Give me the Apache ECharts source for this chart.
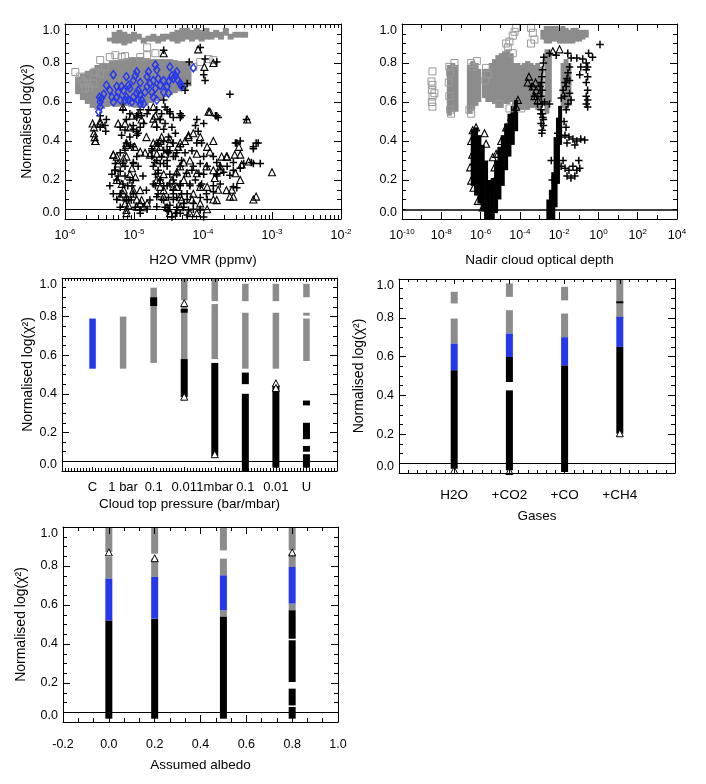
<!DOCTYPE html>
<html>
<head>
<meta charset="UTF-8">
<title></title>
<style>
* { margin: 0; padding: 0; }
html, body { background: #fff; }
#chart { width: 706px; height: 784px; }
</style>
</head>
<body>
<div id="chart"></div>
<script src="https://cdn.jsdelivr.net/npm/echarts@6/dist/echarts.min.js"></script>
<script>
// panel 1 : H2O VMR, x stored as log10(ppmv)
// strips are [x, yLow, yHigh] for the dense gray clouds
var vmrGrayStrips = [
  [-5.81,0.64,0.73],[-5.74,0.61,0.745],[-5.67,0.59,0.76],[-5.60,0.57,0.77],[-5.53,0.56,0.79],
  [-5.46,0.565,0.80],[-5.39,0.575,0.80],[-5.32,0.58,0.81],[-5.25,0.575,0.815],[-5.18,0.58,0.82],
  [-5.11,0.58,0.825],[-5.04,0.575,0.83],[-4.97,0.57,0.83],[-4.90,0.57,0.83],[-4.83,0.58,0.825],
  [-4.76,0.595,0.82],[-4.69,0.605,0.82],[-4.62,0.615,0.82],[-4.55,0.625,0.82],[-4.48,0.635,0.82],
  [-4.41,0.645,0.815],[-4.34,0.655,0.81],[-4.27,0.665,0.81],[-4.21,0.68,0.80],
  [-5.35,0.91,0.93],[-5.28,0.90,0.96],[-5.21,0.90,0.97],[-5.14,0.89,0.96],[-5.07,0.90,0.95],
  [-5.00,0.91,0.96],[-4.93,0.92,0.95],[-4.86,0.90,0.93],[-4.79,0.91,0.94],[-4.72,0.91,0.95],
  [-4.65,0.90,0.94],[-4.58,0.91,0.95],[-4.51,0.92,0.95],[-4.44,0.91,0.96],[-4.37,0.90,0.97],
  [-4.30,0.91,0.98],[-4.23,0.92,0.98],[-4.16,0.91,0.97],[-4.09,0.92,0.98],[-4.02,0.91,0.97],
  [-3.95,0.92,0.98],[-3.88,0.92,0.96],[-3.81,0.93,0.97],[-3.74,0.92,0.96],[-3.67,0.94,0.98],
  [-3.60,0.92,0.95],[-3.53,0.93,0.96],[-3.46,0.93,0.96],[-3.39,0.93,0.96]
];
var vmrGraySquares = [
  [-5.85,0.754],[-5.76,0.71],[-5.73,0.695],[-5.69,0.73],[-5.65,0.675],[-5.71,0.67],[-5.59,0.695],
  [-5.78,0.73],[-5.49,0.745],[-5.56,0.755],[-5.42,0.78],[-5.49,0.815],[-5.35,0.83],[-5.27,0.84],
  [-5.18,0.83],[-5.13,0.835],[-4.91,0.83],[-4.81,0.88],[-4.81,0.84],[-4.69,0.85],[-4.14,0.78],
  [-3.92,0.82],[-4.04,0.805],[-3.85,0.815]
];
var vmrPlus = [
  [-5.41,0.45],[-5.49,0.47],[-5.40,0.51],[-5.49,0.53],[-5.27,0.25],[-5.23,0.22],[-5.13,0.27],
  [-5.01,0.20],[-5.03,0.17],[-5.01,0.285],[-4.96,0.32],[-5.05,0.38],[-5.01,0.37],[-4.96,0.43],
  [-4.96,0.45],[-5.06,0.42],[-5.11,0.39],[-5.18,0.43],[-5.20,0.47],[-4.96,0.52],[-4.89,0.53],
  [-4.86,0.49],[-5.01,0.46],[-4.94,0.44],[-4.81,0.54],[-4.79,0.56],[-4.91,0.56],[-4.67,0.56],
  [-4.57,0.61],[-4.52,0.56],[-4.48,0.55],[-4.43,0.52],[-4.33,0.52],[-4.31,0.53],[-4.60,0.54],
  [-4.67,0.47],[-4.57,0.46],[-4.74,0.35],[-4.60,0.32],[-4.52,0.35],[-4.50,0.42],[-4.52,0.30],
  [-4.62,0.285],[-4.65,0.25],[-4.52,0.27],[-4.48,0.23],[-4.43,0.20],[-4.52,0.17],[-4.57,0.17],
  [-4.50,0.11],[-4.43,0.10],[-4.38,0.06],[-4.45,0.01],[-4.33,0.03],[-4.23,0.02],[-4.14,0.05],
  [-4.23,0.13],[-4.19,0.17],[-4.33,0.17],[-4.38,0.23],[-4.31,0.30],[-4.26,0.34],[-4.33,0.37],
  [-4.38,0.34],[-4.07,0.45],[-4.09,0.39],[-4.02,0.39],[-4.16,0.35],[-3.99,0.32],[-3.85,0.32],
  [-4.04,0.285],[-3.94,0.27],[-3.80,0.22],[-3.99,0.23],[-4.16,0.25],[-4.11,0.20],[-4.04,0.17],
  [-3.85,0.17],[-3.75,0.18],[-4.04,0.11],[-3.94,0.10],[-4.04,0.05],[-3.99,0.01],[-3.80,0.23],
  [-3.61,0.64],[-3.53,0.39],[-3.23,0.39],[-3.27,0.37],[-3.78,0.52],[-3.82,0.53],[-3.41,0.285],
  [-3.27,0.285],[-3.17,0.285],[-3.56,0.25],[-3.65,0.27],[-3.61,0.225],[-3.56,0.165],[-3.51,0.16],
  [-4.57,0.865],[-4.04,0.88],[-3.97,0.82],[-3.80,0.805],[-4.20,0.805],[-3.99,0.74],[-3.97,0.71],
  [-4.31,0.68],[-4.26,0.66],[-4.23,0.695],[-4.62,0.51],[-4.55,0.49],[-4.45,0.47],[-4.40,0.44],
  [-4.57,0.40],[-4.43,0.39],[-4.65,0.39],[-4.48,0.35],[-4.40,0.32],[-4.69,0.17],[-4.65,0.13],
  [-4.60,0.10],[-4.55,0.06],[-4.50,0.04],[-4.40,0.03],[-4.28,0.06],[-4.23,0.10],[-4.31,0.13],
  [-4.38,0.11],[-4.43,0.15],[-4.48,0.18],[-4.62,0.20],[-4.69,0.23],[-4.72,0.27],[-4.67,0.30],
  [-4.74,0.32],[-5.30,0.13],[-5.25,0.10],[-5.20,0.06],[-5.08,0.10],[-4.98,0.06],[-4.91,0.03],
  [-4.81,0.05],[-5.35,0.17],[-5.32,0.23],[-5.27,0.285],
  [-5.42,0.48],[-5.20,0.34],[-5.13,0.353],[-5.28,0.25],[-5.20,0.245],[-5.13,0.22],[-5.06,0.20],
  [-5.09,0.17],[-5.01,0.13],[-5.04,0.097],[-4.50,0.34],[-4.48,0.54],[-4.62,0.51],[-4.55,0.575],
  [-4.33,0.54],[-4.11,0.48],[-3.99,0.49],[-4.09,0.51],[-3.80,0.53],[-3.37,0.51],[-3.51,0.39],
  [-3.46,0.40],[-3.20,0.39],[-3.27,0.36],[-3.80,0.29],[-3.75,0.27],[-3.56,0.29],[-3.30,0.29],
  [-3.46,0.26],[-3.70,0.24],[-4.02,0.18],[-3.95,0.13],[-3.85,0.14],[-4.21,0.046],[-4.38,0.03],
  [-4.52,0.046],[-4.57,0.097],[-4.67,0.114],[-4.72,0.18],[-4.65,0.235],[-4.57,0.285],[-4.70,0.29],
  [-4.74,0.36],[-4.57,0.353],[-4.43,0.32],[-4.33,0.27],[-4.24,0.235],[-4.14,0.27],[-4.06,0.235],
  [-4.19,0.18],[-4.33,0.18],[-4.43,0.13],[-4.28,0.08],[-4.14,0.08],[-4.04,0.046],[-4.48,0.07],
  [-4.67,0.063],[-4.77,0.097],[-4.82,0.148],[-4.87,0.22],[-4.94,0.27],[-5.01,0.29],[-5.16,0.285],
  [-5.25,0.20],[-5.16,0.18],[-5.20,0.13],[-5.11,0.097],[-4.91,0.046],[-5.16,0.56],[-5.06,0.54],
  [-4.96,0.53],[-5.11,0.51],[-5.01,0.48],[-4.91,0.47],[-5.13,0.456],[-4.94,0.54]
];
var vmrTri = [
  [-5.60,0.49],[-5.58,0.47],[-5.57,0.42],[-5.56,0.40],[-5.49,0.50],[-5.30,0.33],[-5.25,0.32],
  [-5.23,0.285],[-5.15,0.31],[-5.18,0.18],[-5.15,0.15],[-5.11,0.11],[-5.08,0.07],[-5.11,0.03],
  [-5.06,0.23],[-5.01,0.13],[-4.96,0.10],[-4.91,0.08],[-4.86,0.06],[-4.81,0.08],[-4.91,0.345],
  [-5.11,0.38],[-5.13,0.49],[-5.23,0.49],[-5.03,0.53],[-4.69,0.53],[-4.72,0.515],[-4.62,0.40],
  [-4.67,0.37],[-4.72,0.39],[-4.67,0.335],[-4.57,0.23],[-4.43,0.165],[-4.52,0.06],[-4.48,0.03],
  [-4.31,0.10],[-4.33,0.27],[-4.26,0.40],[-4.21,0.42],[-4.48,0.39],[-4.14,0.44],[-4.04,0.42],
  [-3.94,0.37],[-4.09,0.335],[-3.90,0.345],[-3.85,0.25],[-4.09,0.235],[-3.94,0.165],[-3.78,0.15],
  [-3.85,0.10],[-4.09,0.03],[-3.75,0.27],[-3.73,0.32],[-3.36,0.51],[-3.48,0.37],[-3.90,0.55],
  [-3.65,0.32],[-3.46,0.33],[-3.34,0.295],[-3.00,0.24],[-3.58,0.15],[-3.61,0.115],[-3.27,0.10],
  [-3.23,0.115],[-3.46,0.20],[-3.53,0.235],[-4.57,0.85],[-4.07,0.87],[-3.85,0.80],[-3.98,0.78],
  [-4.62,0.37],[-4.55,0.335],[-4.67,0.20],[-4.62,0.165],[-4.57,0.115],[-4.38,0.165],[-4.28,0.20],
  [-4.23,0.235],[-4.33,0.06],[-4.19,0.03],[-4.16,0.10],[-4.04,0.08],[-3.94,0.05],[-5.11,0.32],
  [-5.03,0.26],[-4.98,0.215],[-5.25,0.20],[-5.20,0.115],[-5.13,0.08],
  [-5.58,0.44],[-5.56,0.40],[-5.11,0.39],[-4.99,0.37],[-5.30,0.33],[-4.84,0.34],[-4.77,0.33],
  [-4.67,0.39],[-4.60,0.42],[-4.70,0.49],[-4.48,0.41],[-4.33,0.39],[-4.36,0.37],[-4.21,0.43],
  [-3.85,0.40],[-3.92,0.55],[-4.19,0.30],[-4.28,0.29],[-4.38,0.24],[-4.45,0.20],[-4.62,0.20],
  [-4.57,0.148],[-4.91,0.148],[-5.01,0.148],[-5.16,0.13],[-4.89,0.097],[-4.96,0.063],[-5.11,0.046],
  [-3.95,0.27],[-3.83,0.21],[-3.66,0.148],[-3.56,0.114],[-3.44,0.28],[-3.54,0.33],[-3.66,0.32],
  [-3.75,0.251],[-4.04,0.165],[-4.14,0.13],[-3.80,0.097],[-4.33,0.114],[-4.82,0.42],[-5.49,0.49],
  [-4.72,0.575],[-5.16,0.575],[-5.06,0.47],[-4.89,0.51]
];
var vmrBlue = [
  [-5.51,0.55],[-5.49,0.575],[-5.49,0.60],[-5.47,0.62],[-5.44,0.64],[-5.50,0.625],[-5.30,0.74],
  [-5.18,0.68],[-5.15,0.66],[-5.11,0.73],[-5.08,0.685],[-5.06,0.67],[-5.01,0.71],[-4.98,0.735],
  [-4.96,0.755],[-5.11,0.625],[-5.08,0.61],[-5.01,0.625],[-4.96,0.645],[-4.94,0.66],[-4.91,0.635],
  [-4.89,0.61],[-4.86,0.59],[-4.84,0.65],[-4.81,0.68],[-4.81,0.73],[-4.79,0.755],[-4.77,0.695],
  [-4.74,0.65],[-4.72,0.625],[-4.69,0.67],[-4.67,0.765],[-4.65,0.72],[-4.62,0.685],[-4.57,0.71],
  [-4.57,0.65],[-4.52,0.68],[-4.50,0.705],[-4.48,0.78],[-4.45,0.735],[-4.43,0.72],[-4.40,0.735],
  [-4.38,0.755],[-4.36,0.71],[-4.33,0.695],[-4.31,0.68],[-5.32,0.625],[-5.25,0.625],[-5.20,0.61],
  [-5.30,0.60],[-5.23,0.65],[-4.69,0.79],[-4.14,0.775],[-4.94,0.61],[-4.91,0.59],[-5.03,0.60],
  [-5.13,0.61],[-5.35,0.66],[-5.40,0.686],[-5.25,0.68],[-4.91,0.70],[-4.72,0.71],[-4.50,0.645],
  [-4.67,0.61]
];

// panel 2 : nadir cloud optical depth, x stored as log10(tau)
var tauGrayStrips = [
  [-7.59,0.53,0.79],[-7.42,0.55,0.80],[-7.25,0.55,0.79],
  [-6.57,0.54,0.79],[-6.40,0.56,0.81],[-6.23,0.58,0.80],[-6.09,0.60,0.77],
  [-5.80,0.62,0.77],[-5.63,0.60,0.77],[-5.46,0.60,0.80],[-5.29,0.59,0.82],[-5.12,0.57,0.84],
  [-4.95,0.57,0.85],[-4.78,0.59,0.86],[-4.61,0.59,0.87],[-4.44,0.60,0.85],[-4.27,0.58,0.80],
  [-4.10,0.56,0.80],[-3.93,0.56,0.79],[-3.77,0.56,0.80],[-3.60,0.56,0.81],[-3.43,0.57,0.80],
  [-3.26,0.57,0.79],[-3.09,0.56,0.80],[-2.92,0.58,0.78],
  [-2.62,0.54,0.87],[-2.50,0.60,0.85],
  [-1.80,0.57,0.80],[-1.65,0.56,0.82],[-1.50,0.58,0.80],
  [-2.83,0.92,0.97],[-2.66,0.90,0.99],[-2.49,0.90,0.99],[-2.32,0.91,0.99],[-2.15,0.91,0.99],
  [-1.98,0.90,0.98],[-1.81,0.90,0.99],[-1.64,0.90,0.98],[-1.47,0.90,0.97],[-1.30,0.90,0.98],
  [-1.13,0.91,0.98],[-0.96,0.91,0.97],[-0.79,0.92,0.97],[-0.62,0.93,0.97]
];
var tauGraySquares = [
  [-8.45,0.757],[-8.50,0.705],[-8.45,0.688],[-8.48,0.662],[-8.35,0.645],[-8.45,0.628],[-8.48,0.60],
  [-8.45,0.576],[-7.59,0.78],[-7.55,0.75],[-7.62,0.70],[-7.59,0.63],[-7.55,0.56],[-7.50,0.54],
  [-7.33,0.80],[-6.48,0.80],[-6.40,0.78],[-6.57,0.56],[-6.48,0.54],[-6.19,0.81],[-5.72,0.775],
  [-5.63,0.74],[-5.75,0.71],[-4.70,0.90],[-4.53,0.91],[-4.61,0.88],[-4.36,0.94],[-4.27,0.96],
  [-4.19,0.98],[-4.36,0.85],[-3.43,0.98],[-3.34,0.955],[-3.26,0.92],[-3.43,0.90],[-5.04,0.59],
  [-4.53,0.567],[-3.93,0.567]
];
var tauBlackStrips = [
  [-6.40,0.17,0.46],[-6.23,0.12,0.47],[-6.06,0.08,0.43],[-5.89,0.04,0.38],[-5.72,0.0,0.30],
  [-5.55,0.0,0.20],[-5.38,0.0,0.21],[-5.21,0.03,0.30],[-5.04,0.10,0.37],[-4.87,0.17,0.43],
  [-4.70,0.25,0.49],[-4.53,0.32,0.54],[-4.36,0.38,0.58],[-4.19,0.45,0.61],
  [-2.55,0.0,0.10],[-2.42,0.0,0.15],[-2.30,0.0,0.24],[-2.18,0.06,0.42],[-2.06,0.18,0.52],
  [-1.95,0.38,0.58]
];
var tauTri = [
  [-3.34,0.68],[-3.17,0.66],[-3.26,0.63],[-3.09,0.61],[-3.00,0.645],[-3.20,0.70],[-2.32,0.86],
  [-1.98,0.87],[-6.23,0.47],[-6.40,0.455],[-6.48,0.40],[-6.43,0.33],[-6.53,0.265],[-6.48,0.197],
  [-6.36,0.16],[-6.14,0.093],[-5.89,0.059],[-5.80,0.44],[-5.72,0.386],[-5.38,0.317],[-5.21,0.334],
  [-5.29,0.265],[-4.10,0.61],[-4.19,0.576],[-4.44,0.524],[-4.70,0.47],[-4.95,0.40],[-5.12,0.334],
  [-5.29,0.197],[-5.46,0.059],[-3.54,0.73],[-3.60,0.70]
];
var tauPlus = [
  [-2.78,0.83],[-2.80,0.80],[-2.85,0.765],[-2.88,0.73],[-2.90,0.70],[-2.87,0.66],[-2.92,0.63],
  [-2.87,0.59],[-2.92,0.56],[-2.83,0.52],[-2.92,0.49],[-2.87,0.455],[-2.80,0.51],[-2.85,0.54],
  [-2.75,0.60],[-2.49,0.59],[-2.49,0.85],[-2.15,0.84],[-1.89,0.62],[-1.80,0.66],[-1.70,0.70],
  [-1.60,0.72],[-2.07,0.44],[-1.90,0.42],[-1.70,0.43],[-1.50,0.42],[-1.30,0.41],[-1.10,0.40],
  [-0.90,0.41],[-0.70,0.405],[-1.60,0.39],[-1.20,0.38],[-1.90,0.27],[-1.70,0.26],[-1.50,0.25],
  [-1.30,0.27],[-1.10,0.25],[-0.95,0.26],[-1.60,0.22],[-1.40,0.21],[-1.20,0.22],[-1.80,0.30],
  [-1.00,0.30],[-1.56,0.85],[-1.39,0.826],[-1.47,0.78],[-1.55,0.75],[-1.47,0.71],[-1.64,0.68],
  [-1.47,0.645],[-1.39,0.61],[-1.55,0.59],[-1.64,0.56],[-1.72,0.63],[-1.75,0.50],[-1.65,0.47],
  [-0.62,0.80],[-0.55,0.78],[-0.62,0.765],[-0.55,0.73],[-0.62,0.70],[-0.55,0.66],[-0.62,0.63],
  [-0.55,0.61],[-0.62,0.59],[-0.55,0.575],[0.08,0.895],[-1.10,0.826],[-0.80,0.82],[-0.30,0.83],
  [-0.50,0.85],[-0.90,0.78],[-0.95,0.74],[-3.40,0.68],[-3.26,0.63],[-3.10,0.59],[-2.93,0.54],
  [-2.97,0.68],[-2.80,0.48],[-2.88,0.44],[-2.40,0.30],[-2.35,0.20]
];

// panel 3 : cloud top pressure, columns [index, yLow, yHigh]
var ctpLabels = ['C', '1 bar', '0.1', '0.01', '1mbar', '0.1', '0.01', 'U'];
var ctpGray = [
  [1,0.53,0.80],[2,0.56,0.95],[3,0.58,0.86],[3,0.885,1.0],[4,0.58,0.865],[4,0.88,1.0],
  [5,0.53,0.82],[5,0.88,0.97],[6,0.53,0.82],[6,0.88,0.97],[7,0.57,0.79],[7,0.805,0.82],
  [7,0.90,0.97]
];
var ctpBlack = [
  [2,0.855,0.90],[3,0.82,0.84],[3,0.383,0.58],[4,0.078,0.56],[5,0.45,0.51],[5,0.0,0.40],
  [6,0.017,0.443],[7,0.34,0.365],[7,0.165,0.25],[7,0.10,0.13],[7,0.017,0.087]
];
var ctpBlue = [[0,0.53,0.79]];
var ctpTri = [[3,0.87],[3,0.385],[4,0.087],[6,0.455],[6,0.43]];

// panel 4 : gases
var gasLabels = ['H2O', '+CO2', '+CO', '+CH4'];
var gasGray = [
  [0,0.874,0.934],[0,0.667,0.796],[1,0.908,0.977],[1,0.719,0.839],[2,0.89,0.96],[2,0.70,0.822],
  [3,0.796,1.0]
];
var gasBlue = [[0,0.53,0.667],[1,0.598,0.719],[2,0.555,0.70],[3,0.65,0.805]];
var gasBlack = [
  [0,0.022,0.53],[1,0.469,0.598],[1,0.014,0.426],[2,0.005,0.555],[3,0.203,0.65],[3,0.875,0.885]
];
var gasTri = [[3,0.205],[0,0.015],[1,0.01]];

// panel 5 : assumed albedo
var albedoGray = [
  [0.0,0.872,1.0],[0.0,0.735,0.846],[0.2,0.863,1.0],[0.2,0.744,0.838],[0.5,0.88,1.0],
  [0.5,0.752,0.838],[0.5,0.54,0.573],[0.8,0.88,1.0],[0.8,0.795,0.863],[0.8,0.573,0.607]
];
var albedoBlue = [[0.0,0.521,0.735],[0.2,0.53,0.744],[0.5,0.573,0.752],[0.8,0.607,0.795]];
var albedoBlack = [
  [0.0,0.017,0.521],[0.2,0.017,0.53],[0.5,0.017,0.54],[0.8,0.427,0.573],[0.8,0.205,0.419],
  [0.8,0.085,0.171],[0.8,0.017,0.077]
];
var albedoTri = [[0.0,0.87],[0.8,0.87],[0.2,0.84]];

var cutLevel = 0.05;

var FONT = '"Liberation Sans", Arial, Helvetica, sans-serif';
var GRAY = '#8c8c8c';
var BLUE = '#2638ec';
var PLUS = 'path://M4,0H6V4H10V6H6V10H4V6H0V4H4Z';

var grids = [
  {left: 65, top: 24, width: 276, height: 195},
  {left: 402, top: 24, width: 275, height: 195},
  {left: 62, top: 278, width: 275, height: 193},
  {left: 399, top: 279, width: 276, height: 194},
  {left: 63, top: 527, width: 275, height: 195}
];

var xAxis = [], yAxis = [], series = [];

function tickAxis(list, g, pos, o) {
  var a = {
    gridIndex: g, type: 'value', position: pos, z: 10,
    min: o.min, max: o.max, interval: o.interval,
    axisLine: {show: o.line !== false, onZero: false, lineStyle: {color: '#000', width: 1}},
    axisTick: {show: true, inside: true, length: o.tick || 7, lineStyle: {color: '#000', width: 1}},
    minorTick: {show: !!o.minor, splitNumber: o.minor || 5, length: o.minorLen || 4,
      lineStyle: {color: '#000', width: 1}},
    splitLine: {show: false},
    minorSplitLine: {show: false},
    axisLabel: {show: false}
  };
  if (o.customTicks) a.axisTick.customValues = o.customTicks;
  list.push(a);
  return list.length - 1;
}

var supRich = {
  b: {fontSize: 12.5, fontFamily: FONT, color: '#000'},
  s: {fontSize: 8, fontFamily: FONT, color: '#000', padding: [0, 0, 7, 0]}
};

function panel(g, xo, xfmt, xName, xGap, yName, yGap) {
  var xi = tickAxis(xAxis, g, 'bottom', xo);
  tickAxis(xAxis, g, 'top', xo);
  xAxis[xi].axisLabel = {show: true, color: '#000', fontFamily: FONT, fontSize: xo.fontSize || 12.5,
    margin: xo.margin, formatter: xfmt, rich: supRich};
  xAxis[xi].name = xName;
  xAxis[xi].nameLocation = 'middle';
  xAxis[xi].nameGap = xGap;
  xAxis[xi].nameTextStyle = {color: '#000', fontFamily: FONT, fontSize: 13.5, padding: xo.namePad || 0};
  var yo = {min: 0, max: 1, interval: 0.2, minor: 4, tick: 7, minorLen: 4};
  var yi = tickAxis(yAxis, g, 'left', yo);
  tickAxis(yAxis, g, 'right', yo);
  yAxis[yi].axisLabel = {show: true, color: '#000', fontFamily: FONT, fontSize: 12.5, margin: 5,
    formatter: function (v) { return v.toFixed(1); },
    verticalAlignMinLabel: 'bottom', verticalAlignMaxLabel: 'top'};
  if (yName) {
    yAxis[yi].name = yName;
    yAxis[yi].nameLocation = 'middle';
    yAxis[yi].nameGap = yGap;
    yAxis[yi].nameTextStyle = {color: '#000', fontFamily: FONT, fontSize: 14};
  }
  return [xi, yi];
}

function strips(ax, data, color, w) {
  series.push({
    type: 'custom', xAxisIndex: ax[0], yAxisIndex: ax[1], data: data, silent: true,
    renderItem: function (params, api) {
      var top = api.coord([api.value(0), api.value(2)]);
      var bot = api.coord([api.value(0), api.value(1)]);
      return {type: 'rect', shape: {x: top[0] - w / 2, y: top[1], width: w,
        height: Math.max(1, bot[1] - top[1])}, style: {fill: color}};
    }
  });
}

function dots(ax, data, symbol, size, stroke, fill, bw) {
  var s = {
    type: 'scatter', xAxisIndex: ax[0], yAxisIndex: ax[1], data: data, silent: true,
    symbol: symbol, symbolSize: size,
    itemStyle: {color: fill, borderColor: stroke, borderWidth: bw, opacity: 1}
  };
  series.push(s);
  return s;
}

function cut(s, w) {
  s.markLine = {silent: true, symbol: 'none', animation: false, label: {show: false},
    lineStyle: {color: '#000', width: w, type: 'solid'}, data: [{yAxis: cutLevel}]};
}

var powLabel = function (v) { return '{b|10}{s|' + v + '}'; };
var yTitle = 'Normalised log(\u03c7\u00b2)';

// panel 1
var logMinor = [];
for (var d = -6; d < -2; d++) {
  for (var k = 2; k <= 9; k++) logMinor.push(d + Math.log10(k));
}
var a1 = panel(0, {min: -6, max: -2, interval: 1, tick: 7, margin: 9}, powLabel,
  'H2O VMR (ppmv)', 34, yTitle, 31);
tickAxis(xAxis, 0, 'bottom', {min: -6, max: -2, interval: 1, tick: 4, line: false, customTicks: logMinor});
tickAxis(xAxis, 0, 'top', {min: -6, max: -2, interval: 1, tick: 4, line: false, customTicks: logMinor});
strips(a1, vmrGrayStrips, GRAY, 6);
dots(a1, vmrGraySquares, 'rect', 7, '#999', 'rgba(0,0,0,0)', 1);
dots(a1, vmrPlus, PLUS, 7.5, '#000', '#000', 0);
var s1 = dots(a1, vmrTri, 'triangle', 7, '#000', 'rgba(0,0,0,0)', 1.1);
dots(a1, vmrBlue, 'diamond', [6, 8], BLUE, 'rgba(0,0,0,0)', 1.5);
cut(s1, 1);

// panel 2
var a2 = panel(1, {min: -10, max: 4, interval: 2, minor: 2, tick: 7, minorLen: 4, margin: 9}, powLabel,
  'Nadir cloud optical depth', 34, null, 0);
strips(a2, tauGrayStrips, GRAY, 5);
dots(a2, tauGraySquares, 'rect', 7, '#999', 'rgba(0,0,0,0)', 1);
strips(a2, tauBlackStrips, '#000', 4);
dots(a2, tauPlus, PLUS, 7.5, '#000', '#000', 0);
var s2 = dots(a2, tauTri, 'triangle', 7, '#000', 'rgba(0,0,0,0)', 1.1);
cut(s2, 1.6);

// panel 3
var a3 = panel(2, {min: -1, max: 8, interval: 1, minor: 10, tick: 4, minorLen: 3, margin: 10,
  fontSize: 13, namePad: [0, 20, 0, 0]},
  function (v) { return ctpLabels[v] || ''; }, 'Cloud top pressure (bar/mbar)', 26, yTitle, 27);
strips(a3, ctpGray, GRAY, 6.5);
strips(a3, ctpBlack, '#000', 7);
strips(a3, ctpBlue, BLUE, 6.5);
var s3 = dots(a3, ctpTri, 'triangle', 7, '#000', '#fff', 1);
cut(s3, 1);

// panel 4
var a4 = panel(3, {min: -1, max: 4, interval: 1, minor: 6, tick: 5, minorLen: 3, margin: 15, fontSize: 13.5},
  function (v) { return gasLabels[v] || ''; }, 'Gases', 36, yTitle, 33);
strips(a4, gasGray, GRAY, 7);
strips(a4, gasBlack, '#000', 7);
strips(a4, gasBlue, BLUE, 7);
var s4 = dots(a4, gasTri, 'triangle', 7, '#000', '#fff', 1);
cut(s4, 1);

// panel 5
var a5 = panel(4, {min: -0.2, max: 1.0, interval: 0.2, minor: 3, tick: 7, minorLen: 4, margin: 16},
  function (v) { return v.toFixed(1); }, 'Assumed albedo', 36, yTitle, 35);
strips(a5, albedoGray, GRAY, 7);
strips(a5, albedoBlack, '#000', 7);
strips(a5, albedoBlue, BLUE, 7);
var s5 = dots(a5, albedoTri, 'triangle', 7, '#000', '#fff', 1);
cut(s5, 1);

var chart = echarts.init(document.getElementById('chart'));
chart.setOption({
  animation: false,
  backgroundColor: '#fff',
  textStyle: {fontFamily: FONT},
  grid: grids,
  xAxis: xAxis,
  yAxis: yAxis,
  series: series
});
</script>
</body>
</html>
